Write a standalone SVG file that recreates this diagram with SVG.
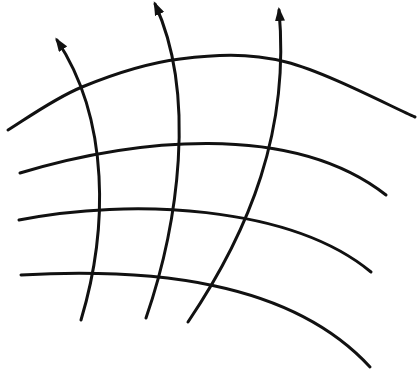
<svg xmlns="http://www.w3.org/2000/svg" width="417" height="377" viewBox="0 0 417 377">
  <style>
    .ln { fill: none; stroke: #111; stroke-width: 3; stroke-linecap: round; }
  </style>
  <defs>
    <marker id="ah" markerUnits="userSpaceOnUse" markerWidth="14" markerHeight="10" refX="11" refY="5" orient="auto">
      <path d="M0,0 L14,5 L0,10 Z" fill="#111"/>
    </marker>
  </defs>
  <rect width="417" height="377" fill="#fff"/>
  <g id="arcs">
    <path class="ln" d="M8,130 C20.3,122.8 53.3,98.8 82,87 C110.7,75.2 146,63.2 180,59 C214,54.8 246.8,52.3 286,62 C325.2,71.7 393.5,107.8 415,117"/>
    <path class="ln" d="M20,173 C130,140 290,120 386,195"/>
    <path class="ln" d="M19,220 C130,198 290,205 371,272"/>
    <path class="ln" d="M21,275 C150,268 290,280 370,367"/>
  </g>
  <g id="connectors">
    <path class="ln" marker-end="url(#ah)" d="M81,320 C108,230 110,120 57,40"/>
    <path class="ln" marker-end="url(#ah)" d="M146,318 C178,225 197,95 155,4"/>
    <path class="ln" marker-end="url(#ah)" d="M188,322 C250,230 290,130 279,10"/>
  </g>
</svg>
